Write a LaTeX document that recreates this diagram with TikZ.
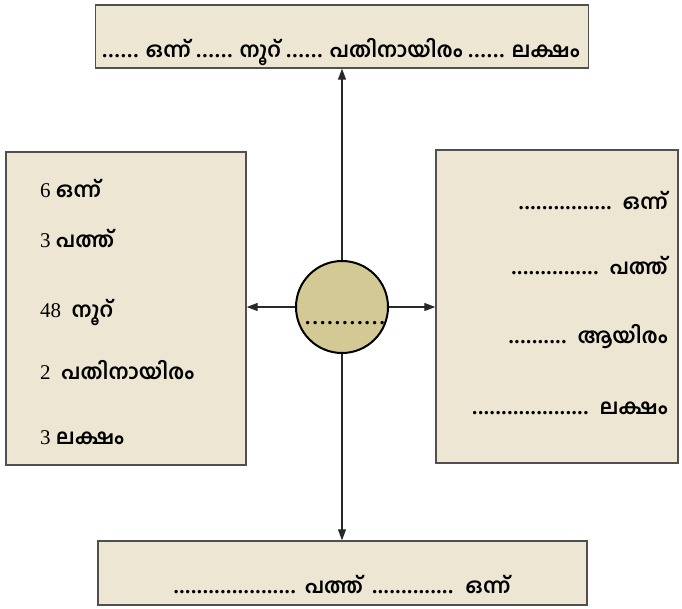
\documentclass[tikz,border=0pt]{standalone}
\usepackage{fontspec}
\setmainfont{Liberation Serif}
\newfontfamily\mlfont[Script=Malayalam]{Hind Kochi}
\usetikzlibrary{arrows.meta}
\definecolor{boxfill}{RGB}{236,230,210}
\definecolor{boxline}{RGB}{80,80,80}
\definecolor{hubfill}{RGB}{211,201,149}
\definecolor{arrline}{RGB}{40,40,40}
% Malayalam word in bold
\newcommand{\ml}[1]{{\mlfont\bfseries #1}}
% a row of heavy round dots: \dotrow[extra gap]{count}
\newcommand{\dotrow}[2][0.6pt]{{\rmfamily\bfseries\foreach \i in {1,...,#2}{.\kern#1}\kern-#1}}
\tikzset{
  panel/.style={draw=boxline, fill=boxfill, line width=1.4pt, inner sep=0pt},
  hub/.style={circle, draw=black, fill=hubfill, line width=2pt, minimum size=92pt, inner sep=0pt},
  label/.style={inner sep=0pt, font=\fontsize{21}{24}\selectfont},
  arr/.style={draw=arrline, line width=1.1pt, -{Triangle[length=11pt,width=8pt]}}
}
\begin{document}
\begin{tikzpicture}[x=1pt,y=-1pt]
\useasboundingbox (0,0) rectangle (682,608);

% panels
\node[panel, minimum width=493pt, minimum height=63pt] (top) at (342,36.5) {};
\node[panel, minimum width=240pt, minimum height=313pt] (lb) at (126,308.5) {};
\node[panel, minimum width=242pt, minimum height=313pt] (rb) at (557,306.5) {};
\node[panel, minimum width=489pt, minimum height=64pt] (bot) at (342.5,573) {};

% central circle
\node[hub] (c) at (342,307) {};
\node[label, anchor=base] (cdots) at (345,324) {\dotrow[2.2pt]{11}};

% connectors
\draw[arr] (c.north) -- (c.north |- top.south);
\draw[arr] (c.south) -- (c.south |- bot.north);
\draw[arr] (c.west) -- (c.west -| lb.east);
\draw[arr] (c.east) -- (c.east -| rb.west);

% top panel text
\node[label, anchor=base] (toptext) at (341,57) {\dotrow[1pt]{6} \ml{ഒന്ന്} \dotrow[1pt]{6} \ml{നൂറ്} \dotrow[1pt]{6} \ml{പതിനായിരം} \dotrow[1pt]{6} \ml{ലക്ഷം}};

% left panel text
\node[label, anchor=base west] (l1) at (40,197) {6 \ml{ഒന്ന്}};
\node[label, anchor=base west] (l2) at (40,247) {3 \ml{പത്ത്}};
\node[label, anchor=base west] (l3) at (40,317) {48 \ \ml{നൂറ്}};
\node[label, anchor=base west] (l4) at (40,379) {2 \ \ml{പതിനായിരം}};
\node[label, anchor=base west] (l5) at (40,444) {3 \ml{ലക്ഷം}};

% right panel text
\node[label, anchor=base east] (r1) at (668,209) {\dotrow{16}\hspace{11pt}\ml{ഒന്ന്}};
\node[label, anchor=base east] (r2) at (668,274) {\dotrow{15}\hspace{11pt}\ml{പത്ത്}};
\node[label, anchor=base east] (r3) at (668,343) {\dotrow{10}\hspace{11pt}\ml{ആയിരം}};
\node[label, anchor=base east] (r4) at (668,414) {\dotrow{20}\hspace{11pt}\ml{ലക്ഷം}};

% bottom panel text
\node[label, anchor=base] (bottext) at (342,593) {\dotrow{21}\hspace{9pt}\ml{പത്ത്}\hspace{9pt}\dotrow{14}\hspace{12pt}\ml{ഒന്ന്}};
\end{tikzpicture}
\end{document}
